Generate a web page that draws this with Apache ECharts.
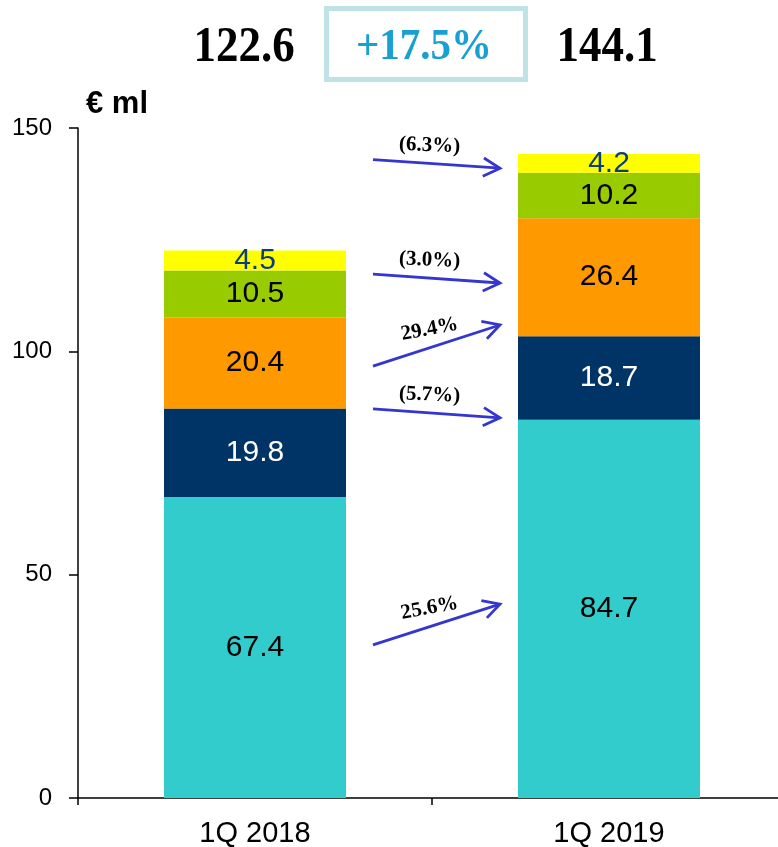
<!DOCTYPE html>
<html>
<head>
<meta charset="utf-8">
<script src="https://cdn.jsdelivr.net/npm/echarts@6/dist/echarts.min.js"></script>
<style>
  html, body { margin: 0; padding: 0; background: #ffffff; }
  #chart { width: 778px; height: 847px; }
</style>
</head>
<body>
<div id="chart"></div>
<script>
// Quarterly revenue breakdown, € millions
const categories = ['1Q 2018', '1Q 2019'];
const tealValues = [67.4, 84.7];
const navyValues = [19.8, 18.7];
const orangeValues = [20.4, 26.4];
const greenValues = [10.5, 10.2];
const yellowValues = [4.5, 4.2];
const totalLabels = ['122.6', '144.1'];
const growthLabel = '+17.5%';
const yTicks = [0, 50, 100, 150];

// Year-on-year change arrows between the two bars (values on the y scale)
const arrowLabels = ['25.6%', '(5.7%)', '29.4%', '(3.0%)', '(6.3%)'];
const arrowFrom = [34.3, 87.1, 96.7, 117.3, 142.9];
const arrowTo = [43.4, 85.1, 105.9, 115.3, 141.0];

const chart = echarts.init(document.getElementById('chart'));
const sans = 'Liberation Sans, Arial, sans-serif';
const serif = 'Liberation Serif, Times New Roman, serif';

function stackSeries(name, values, color, labelColor) {
  return {
    name: name,
    type: 'bar',
    stack: 'total',
    barWidth: 182,
    data: values,
    itemStyle: { color: color },
    label: {
      show: true,
      position: 'inside',
      color: labelColor,
      fontFamily: sans,
      fontSize: 30,
      formatter: p => p.value.toFixed(1)
    },
    emphasis: { disabled: true },
    animation: false
  };
}

chart.setOption({
  animation: false,
  grid: { left: 78, right: -8, top: 128, bottom: 49, outerBoundsMode: 'none', containLabel: false },
  xAxis: {
    type: 'category',
    data: categories,
    axisLine: { lineStyle: { color: '#000', width: 1.5 } },
    axisTick: { show: true, length: 7, lineStyle: { color: '#000', width: 1.5 } },
    axisLabel: {
      color: '#000',
      fontFamily: sans,
      fontSize: 29,
      margin: 21
    }
  },
  yAxis: {
    type: 'value',
    min: yTicks[0],
    max: yTicks[yTicks.length - 1],
    interval: 50,
    splitLine: { show: false },
    axisLine: { show: true, lineStyle: { color: '#000', width: 1.5 } },
    axisTick: { show: true, length: 9, lineStyle: { color: '#000', width: 1.5 } },
    axisLabel: {
      color: '#000',
      fontFamily: sans,
      fontSize: 24,
      margin: 26
    }
  },
  series: [
    stackSeries('teal', tealValues, '#33CCCC', '#000000'),
    stackSeries('navy', navyValues, '#003366', '#ffffff'),
    stackSeries('orange', orangeValues, '#FF9900', '#000000'),
    stackSeries('green', greenValues, '#99CC00', '#000000'),
    stackSeries('yellow', yellowValues, '#FFFF00', '#0B3F7A')
  ]
});

// Overlay: totals, growth box, unit label and change arrows
const barHalf = 91;
const c0 = chart.convertToPixel({ xAxisIndex: 0 }, categories[0]);
const c1 = chart.convertToPixel({ xAxisIndex: 0 }, categories[1]);
const yPix = v => chart.convertToPixel({ yAxisIndex: 0 }, v);

const graphics = [];

graphics.push({
  type: 'text', x: c0 - 11, y: 48, scaleY: 1.12,
  style: { text: totalLabels[0], font: 'bold 45px ' + serif, fill: '#000', align: 'center', verticalAlign: 'middle' }
});
graphics.push({
  type: 'text', x: c1 - 2, y: 48, scaleY: 1.12,
  style: { text: totalLabels[1], font: 'bold 45px ' + serif, fill: '#000', align: 'center', verticalAlign: 'middle' }
});
graphics.push({
  type: 'rect', shape: { x: 326.5, y: 8.5, width: 199, height: 71 },
  style: { fill: 'none', stroke: '#BFE2E6', lineWidth: 5 }
});
graphics.push({
  type: 'text', x: 424, y: 47, scaleY: 1.1,
  style: { text: growthLabel, font: 'bold 41px ' + serif, fill: '#1A9FD3', align: 'center', verticalAlign: 'middle' }
});
graphics.push({
  type: 'text', x: 86, y: 104,
  style: { text: '€ ml', font: 'bold 31px ' + sans, fill: '#000', align: 'left', verticalAlign: 'middle' }
});

const xStart = c0 + barHalf + 27;
const xEnd = c1 - barHalf - 18;
const arrowColor = '#3535CF';
arrowLabels.forEach((txt, i) => {
  const y1 = yPix(arrowFrom[i]);
  const y2 = yPix(arrowTo[i]);
  const ang = Math.atan2(y2 - y1, xEnd - xStart);
  const head = 19, spread = 0.5;
  graphics.push({
    type: 'polyline',
    shape: { points: [[xStart, y1], [xEnd, y2]] },
    style: { stroke: arrowColor, lineWidth: 2.8, fill: 'none' }
  });
  graphics.push({
    type: 'polyline',
    shape: {
      points: [
        [xEnd - head * Math.cos(ang - spread), y2 - head * Math.sin(ang - spread)],
        [xEnd, y2],
        [xEnd - head * Math.cos(ang + spread), y2 - head * Math.sin(ang + spread)]
      ]
    },
    style: { stroke: arrowColor, lineWidth: 2.8, fill: 'none', lineJoin: 'miter' }
  });
  const mx = (xStart + xEnd) / 2 - 7;
  const my = (y1 + y2) / 2 - 18 - 6 * Math.sin(ang);
  graphics.push({
    type: 'text', x: mx, y: my, rotation: -ang * 0.6,
    style: { text: txt, font: 'bold 21px ' + serif, fill: '#000', align: 'center', verticalAlign: 'middle' }
  });
});

chart.setOption({ graphic: graphics });
</script>
</body>
</html>
